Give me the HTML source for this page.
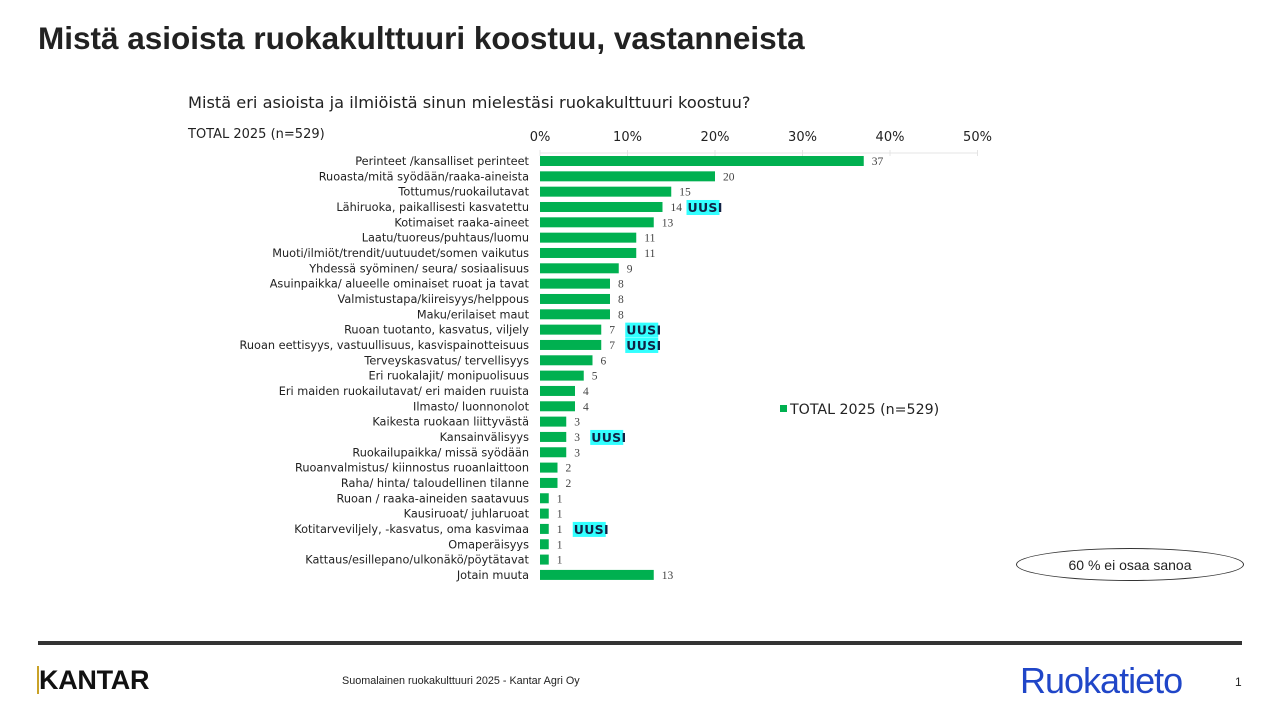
<!DOCTYPE html>
<html><head><meta charset="utf-8"><style>
body{margin:0;width:1280px;height:720px;background:#fff;position:relative;overflow:hidden;font-family:"DejaVu Sans","Liberation Sans",sans-serif}
.a{position:absolute}
</style></head><body>
<div class="a" style="left:38px;top:20px;font:bold 31.5px 'Liberation Sans',sans-serif;color:#222;white-space:nowrap">Mistä asioista ruokakulttuuri koostuu, vastanneista</div>
<div class="a" style="left:188px;top:93px;font-size:16.2px;color:#222;white-space:nowrap">Mistä eri asioista ja ilmiöistä sinun mielestäsi ruokakulttuuri koostuu?</div>
<div class="a" style="left:188px;top:127px;font-size:13px;color:#222">TOTAL 2025 (n=529)</div>
<svg class="a" style="left:0;top:0" width="1280" height="720" id="chart"></svg>
<div class="a" style="left:780px;top:402px;font-size:14.2px;color:#222;white-space:nowrap"><span style="display:inline-block;width:7px;height:7px;background:#00b050;margin-right:3px;vertical-align:2px"></span>TOTAL 2025 (n=529)</div>
<div class="a" style="left:1016px;top:548px;width:226px;height:31px;border:1px solid #333;border-radius:50%;display:flex;align-items:center;justify-content:center;font:14px 'Liberation Sans',sans-serif;color:#222">60 % ei osaa sanoa</div>
<div class="a" style="left:38px;top:641px;width:1204px;height:4px;background:#333"></div>
<div class="a" style="left:37px;top:666px;font:27px 'Liberation Sans',sans-serif;font-weight:600;color:#111;border-left:2px solid #c9a227;padding-left:0;line-height:28px;letter-spacing:-0.3px">KANTAR</div>
<div class="a" style="left:342px;top:675px;font:10.8px 'Liberation Sans',sans-serif;color:#222;white-space:nowrap">Suomalainen ruokakulttuuri 2025 - Kantar Agri Oy</div>
<div class="a" style="left:1020px;top:660px;font:36px 'Liberation Sans',sans-serif;color:#2046c8;letter-spacing:-1px">Ruokatieto</div>
<div class="a" style="left:1235px;top:675px;font:12px 'Liberation Sans',sans-serif;color:#222">1</div>
<script>
const categories=["Perinteet /kansalliset perinteet","Ruoasta/mitä syödään/raaka-aineista","Tottumus/ruokailutavat","Lähiruoka, paikallisesti kasvatettu","Kotimaiset raaka-aineet","Laatu/tuoreus/puhtaus/luomu","Muoti/ilmiöt/trendit/uutuudet/somen vaikutus","Yhdessä syöminen/ seura/ sosiaalisuus","Asuinpaikka/ alueelle ominaiset ruoat ja tavat","Valmistustapa/kiireisyys/helppous","Maku/erilaiset maut","Ruoan tuotanto, kasvatus, viljely","Ruoan eettisyys, vastuullisuus, kasvispainotteisuus","Terveyskasvatus/ tervellisyys","Eri ruokalajit/ monipuolisuus","Eri maiden ruokailutavat/ eri maiden ruuista","Ilmasto/ luonnonolot","Kaikesta ruokaan liittyvästä","Kansainvälisyys","Ruokailupaikka/ missä syödään","Ruoanvalmistus/ kiinnostus ruoanlaittoon","Raha/ hinta/ taloudellinen tilanne","Ruoan / raaka-aineiden saatavuus","Kausiruoat/ juhlaruoat","Kotitarveviljely, -kasvatus, oma kasvimaa","Omaperäisyys","Kattaus/esillepano/ulkonäkö/pöytätavat","Jotain muuta"];
const values=[37,20,15,14,13,11,11,9,8,8,8,7,7,6,5,4,4,3,3,3,2,2,1,1,1,1,1,13];
const isNew=[0,0,0,1,0,0,0,0,0,0,0,1,1,0,0,0,0,0,1,0,0,0,0,0,1,0,0,0];
const ticks=[0,10,20,30,40,50];
const svg=document.getElementById('chart'),NS='http://www.w3.org/2000/svg';
const x0=540,pxPer=8.75,y0=161,step=15.33,bh=10;
const X=v=>x0+v*pxPer, Y=i=>y0+i*step;
function mk(t,a,txt){const e=document.createElementNS(NS,t);for(const k in a)e.setAttribute(k,a[k]);if(txt!=null)e.textContent=txt;svg.appendChild(e);return e;}
let ax=mk('line',{x1:X(0),x2:X(50),y1:153,y2:153,stroke:'#e4e4e4'});


ticks.forEach(t=>{
 let tl=mk('text',{x:X(t),y:141,'text-anchor':'middle','font-size':13,fill:'#222'},t+'%');
 
 
 let tk=mk('line',{x1:X(t),x2:X(t),y1:150,y2:156,stroke:'#e4e4e4'});
 
 
});
categories.forEach((c,i)=>{
 const y=Y(i);
 let l=mk('text',{x:529,y:y+4,'text-anchor':'end','font-size':11.3,fill:'#222'},c);
 
 
 let b=mk('rect',{x:X(0),y:y-bh/2,width:values[i]*pxPer,height:bh,fill:'#00b050'});
 
 
 let v=mk('text',{x:X(values[i])+8,y:y+4,'font-size':11.5,fill:'#444','font-family':'Liberation Serif, serif'},values[i]);
 
 
 if(isNew[i]){
  const nx=X(values[i])+25;
  let r=mk('rect',{x:nx-1,y:y-7,width:33,height:15,fill:'#3ff'});
  
  
  let t=mk('text',{x:nx,y:y+5,'font-size':12.5,'font-weight':'bold',fill:'#124','letter-spacing':'0.3'},'UUSI');
  
  
 }
});
</script>
</body></html>
